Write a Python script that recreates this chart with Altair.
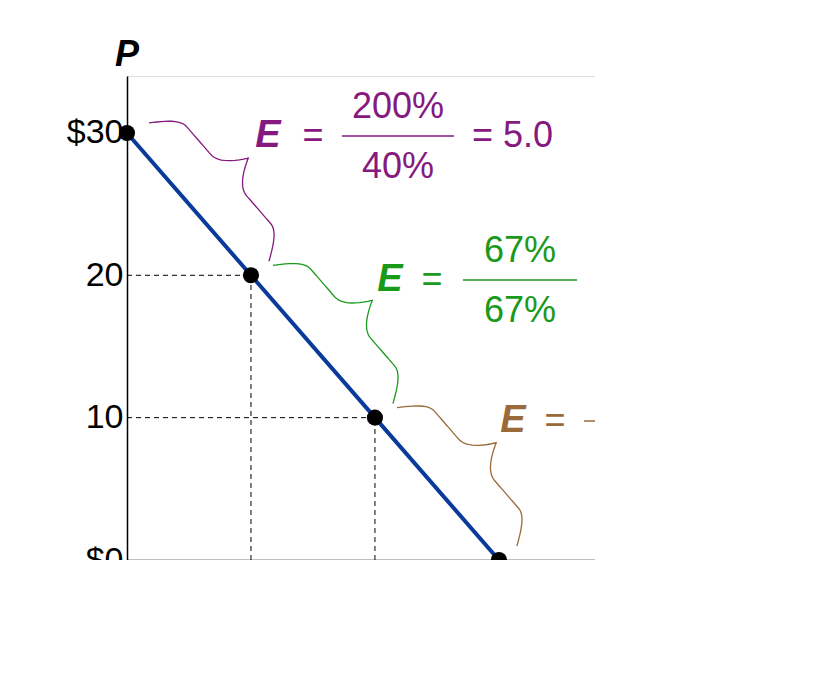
import math
import pandas as pd
import altair as alt

# Demand curve points
q = [0, 20, 40, 60]
p = [30, 20, 10, 0]

colors = ["#85197f", "#1a9a1a", "#9a6a3a"]
numerators = ["200%", "67%", "40%"]
denominators = ["40%", "67%", "200%"]
results = ["= 5.0", "= 1.0", "= 0.2"]

# plot scale: x 0..75.5 over 468px, y 0..34 over 484px
W, H = 468, 484
XMAX, YMAX = 75.5, 34
X0, Y0 = 127, 560  # page pixel of origin


def to_x(px):
    return (px - X0) / W * XMAX


def to_y(py):
    return (Y0 - py) / H * YMAX


def to_px(x):
    return X0 + x / XMAX * W


def to_py(y):
    return Y0 - y / YMAX * H


# brace shapes between consecutive points (pixel space, then back to data)
brace_rows = []
for i in range(3):
    ax, ay = to_px(q[i]) + 22, to_py(p[i]) - 10
    bx, by = to_px(q[i + 1]) + 18, to_py(p[i + 1]) - 14
    L = math.hypot(bx - ax, by - ay)
    dx, dy = (bx - ax) / L, (by - ay) / L
    nx, ny = abs(dy), -abs(dx)
    w = 52
    n = 80
    for k in range(n + 1):
        t = k / n
        s = t / 0.5 if t <= 0.5 else (1 - t) / 0.5
        o = 0.5 * w * math.sin(math.pi / 2 * min(s / 0.3, 1))
        if s > 0.7:
            o += 0.5 * w * ((s - 0.7) / 0.3) ** 2
        px = ax + dx * L * t + nx * o
        py = ay + dy * L * t + ny * o
        brace_rows.append({"x": to_x(px), "y": to_y(py), "o": k, "g": i})
braces = pd.DataFrame(brace_rows)

pts = pd.DataFrame({"q": q, "p": p})
guides = pd.DataFrame({"q": [20, 40], "p": [20, 10], "z": [0, 0]})

# annotation anchor pixels: E, "=", fraction centre, fraction line y, line half width, result x
ann = [
    (268, 313, 398, 136, 56, 472),
    (390, 432, 520, 280, 57, 595),
    (513, 555, 643, 421, 59, 720),
]
rows = []
for i, (ex, eqx, fx, ly, hw, rx) in enumerate(ann):
    rows.append(dict(x=to_x(ex), y=to_y(ly), t="E", c=colors[i], k="E", a="center"))
    rows.append(dict(x=to_x(eqx), y=to_y(ly), t="=", c=colors[i], k="n", a="center"))
    rows.append(dict(x=to_x(fx), y=to_y(ly - 29), t=numerators[i], c=colors[i], k="n", a="center"))
    rows.append(dict(x=to_x(fx), y=to_y(ly + 31), t=denominators[i], c=colors[i], k="n", a="center"))
    rows.append(dict(x=to_x(rx), y=to_y(ly), t=results[i], c=colors[i], k="n", a="left"))
labels = pd.DataFrame(rows)
fracs = pd.DataFrame([
    dict(x=to_x(fx - hw), x2=to_x(fx + hw), y=to_y(ly), c=colors[i])
    for i, (ex, eqx, fx, ly, hw, rx) in enumerate(ann)
])

xs = alt.Scale(domain=[0, XMAX], nice=False)
ys = alt.Scale(domain=[0, YMAX], nice=False)
FONT = "Liberation Sans"

line = alt.Chart(pts).mark_line(color="#0a3a9a", strokeWidth=4, clip=False).encode(
    x=alt.X("q:Q", scale=xs, axis=alt.Axis(values=[0, 20, 40, 60], title=None, ticks=False,
            grid=False, domainColor="black", domainWidth=1.5, labelFontSize=34, labelFont=FONT,
            labelColor="black", labelPadding=8)),
    y=alt.Y("p:Q", scale=ys, axis=alt.Axis(values=[0, 10, 20, 30], title=None, ticks=False,
            grid=False, domainColor="black", domainWidth=1.5, labelFontSize=34, labelFont=FONT,
            labelColor="black", labelPadding=4,
            labelExpr="datum.value == 0 || datum.value == 30 ? '$' + datum.value : datum.value")),
)
hdash = alt.Chart(guides).mark_rule(color="black", strokeDash=[5, 4], strokeWidth=1).encode(
    x="z:Q", x2="q:Q", y="p:Q")
vdash = alt.Chart(guides).mark_rule(color="black", strokeDash=[5, 4], strokeWidth=1).encode(
    x="q:Q", y="z:Q", y2="p:Q")
dots = alt.Chart(pts).mark_circle(color="black", size=260, opacity=1, clip=False).encode(
    x="q:Q", y="p:Q")
brace = alt.Chart(braces).mark_line(strokeWidth=1.3, clip=False).encode(
    x="x:Q", y="y:Q", order="o:Q", detail="g:N",
    color=alt.Color("g:N", scale=alt.Scale(domain=[0, 1, 2], range=colors), legend=None))
etext = alt.Chart(labels[labels.k == "E"]).mark_text(
    font=FONT, fontSize=38, fontWeight="bold", fontStyle="italic", baseline="middle").encode(
    x="x:Q", y="y:Q", text="t:N", color=alt.Color("c:N", scale=None))
ntext_c = alt.Chart(labels[(labels.k == "n") & (labels.a == "center")]).mark_text(
    font=FONT, fontSize=36, baseline="middle", align="center").encode(
    x="x:Q", y="y:Q", text="t:N", color=alt.Color("c:N", scale=None))
ntext_l = alt.Chart(labels[(labels.k == "n") & (labels.a == "left")]).mark_text(
    font=FONT, fontSize=36, baseline="middle", align="left").encode(
    x="x:Q", y="y:Q", text="t:N", color=alt.Color("c:N", scale=None))
frac = alt.Chart(fracs).mark_rule(strokeWidth=1.5, clip=False).encode(
    x="x:Q", x2="x2:Q", y="y:Q", color=alt.Color("c:N", scale=None))
axlab = alt.Chart(pd.DataFrame({"x": [0, to_x(617)], "y": [to_y(55), to_y(563)], "t": ["P", "Q"]})).mark_text(
    font=FONT, fontSize=36, fontWeight="bold", fontStyle="italic", baseline="middle", clip=False).encode(
    x="x:Q", y="y:Q", text="t:N")

chart = alt.layer(hdash, vdash, line, brace, dots, frac, etext, ntext_c, ntext_l, axlab).properties(
    width=W, height=H, autosize="none",
    padding={"left": X0 - 8, "top": Y0 - H - 8, "right": 0, "bottom": 0},
).configure_view(stroke=None).configure(background="white")

chart.save("out.html", embed_options={"renderer": "svg", "actions": False})
